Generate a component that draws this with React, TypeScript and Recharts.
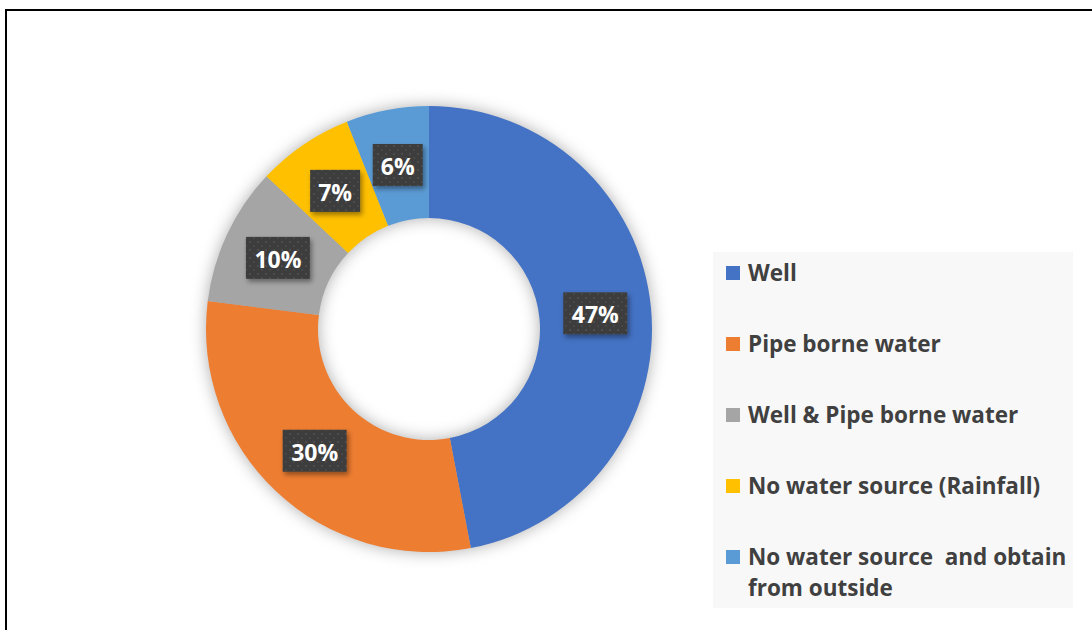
import { PieChart, Pie, Cell, Legend } from 'recharts';

const sources = [
  'Well',
  'Pipe borne water',
  'Well & Pipe borne water',
  'No water source (Rainfall)',
  'No water source  and obtain from outside',
];
const shares = [47, 30, 10, 7, 6];
const colors = ['#4472C4', '#ED7D31', '#A5A5A5', '#FFC000', '#5B9BD5'];

const data = sources.map((name, i) => ({ name, value: shares[i] }));

const FONT = '"Open Sans", "DejaVu Sans", sans-serif';
const RADIAN = Math.PI / 180;

const renderLabel = (props: any) => {
  const { cx, cy, midAngle, innerRadius, outerRadius, value } = props;
  const r = (innerRadius + outerRadius) / 2;
  const x = cx + r * Math.cos(-midAngle * RADIAN);
  const y = cy + r * Math.sin(-midAngle * RADIAN);
  const text = `${value}%`;
  const w = text.length > 2 ? 64 : 50;
  const h = 42;
  return (
    <g>
      <rect x={x - w / 2} y={y - h / 2} width={w} height={h} fill="url(#lblDots)" filter="url(#lblShadow)" />
      <text
        x={x}
        y={y + 1}
        textAnchor="middle"
        dominantBaseline="central"
        fill="#ffffff"
        fontFamily={FONT}
        fontWeight={700}
        fontSize={23}
      >
        {text}
      </text>
    </g>
  );
};

// legend keeps the data order (recharts would sort it by name)
const renderLegend = () => (
  <div
    style={{
      width: 360,
      height: 356,
      background: '#f8f8f8',
      boxSizing: 'border-box',
      paddingTop: 5,
      fontFamily: FONT,
      fontWeight: 700,
      fontSize: 22.5,
      color: '#404040',
    }}
  >
    {sources.map((name, i) => (
      <div key={name} style={{ display: 'flex', alignItems: 'flex-start', marginBottom: 40, lineHeight: '31px' }}>
        <span
          style={{
            display: 'inline-block',
            width: 14,
            height: 14,
            background: colors[i],
            marginLeft: 13,
            marginRight: 8,
            marginTop: 9,
            flex: 'none',
          }}
        />
        <span style={{ whiteSpace: 'pre-wrap', width: 326 }}>{name}</span>
      </div>
    ))}
  </div>
);

export default function App() {
  return (
    <div style={{ position: 'absolute', left: 0, top: 0, width: 1092, height: 630, overflow: 'hidden', background: '#fff' }}>
      <style>{`.shadowed .recharts-pie { filter: drop-shadow(0 0 8px rgba(0,0,0,0.32)); }`}</style>
      <div
        style={{
          position: 'absolute',
          left: 5,
          top: 9,
          width: 1200,
          height: 800,
          borderTop: '2px solid #000',
          borderLeft: '2px solid #000',
        }}
      />
      <div className="shadowed" style={{ position: 'absolute', left: 0, top: 0 }}>
        <PieChart width={1092} height={630} margin={{ top: 0, right: 0, bottom: 0, left: 0 }}>
          <defs>
            <pattern id="lblDots" width="8" height="8" patternUnits="userSpaceOnUse">
              <rect width="8" height="8" fill="#3d3d3d" />
              <circle cx="2" cy="2" r="0.9" fill="#555555" />
              <circle cx="6" cy="6" r="0.9" fill="#4c4c4c" />
            </pattern>
            <filter id="lblShadow" x="-30%" y="-30%" width="160%" height="160%">
              <feDropShadow dx="2" dy="3" stdDeviation="2.5" floodColor="#000" floodOpacity="0.4" />
            </filter>
          </defs>
          <Pie
            data={data}
            dataKey="value"
            nameKey="name"
            cx={429}
            cy={329}
            innerRadius={111}
            outerRadius={223}
            startAngle={90}
            endAngle={-270}
            stroke="none"
            labelLine={false}
            label={renderLabel}
            isAnimationActive={false}
          >
            {data.map((_, i) => (
              <Cell key={i} fill={colors[i]} />
            ))}
          </Pie>
          <Legend
            content={renderLegend}
            layout="vertical"
            align="right"
            verticalAlign="top"
            wrapperStyle={{ left: 713, top: 252, width: 360, height: 356, right: 'auto', bottom: 'auto' }}
          />
        </PieChart>
      </div>
    </div>
  );
}
